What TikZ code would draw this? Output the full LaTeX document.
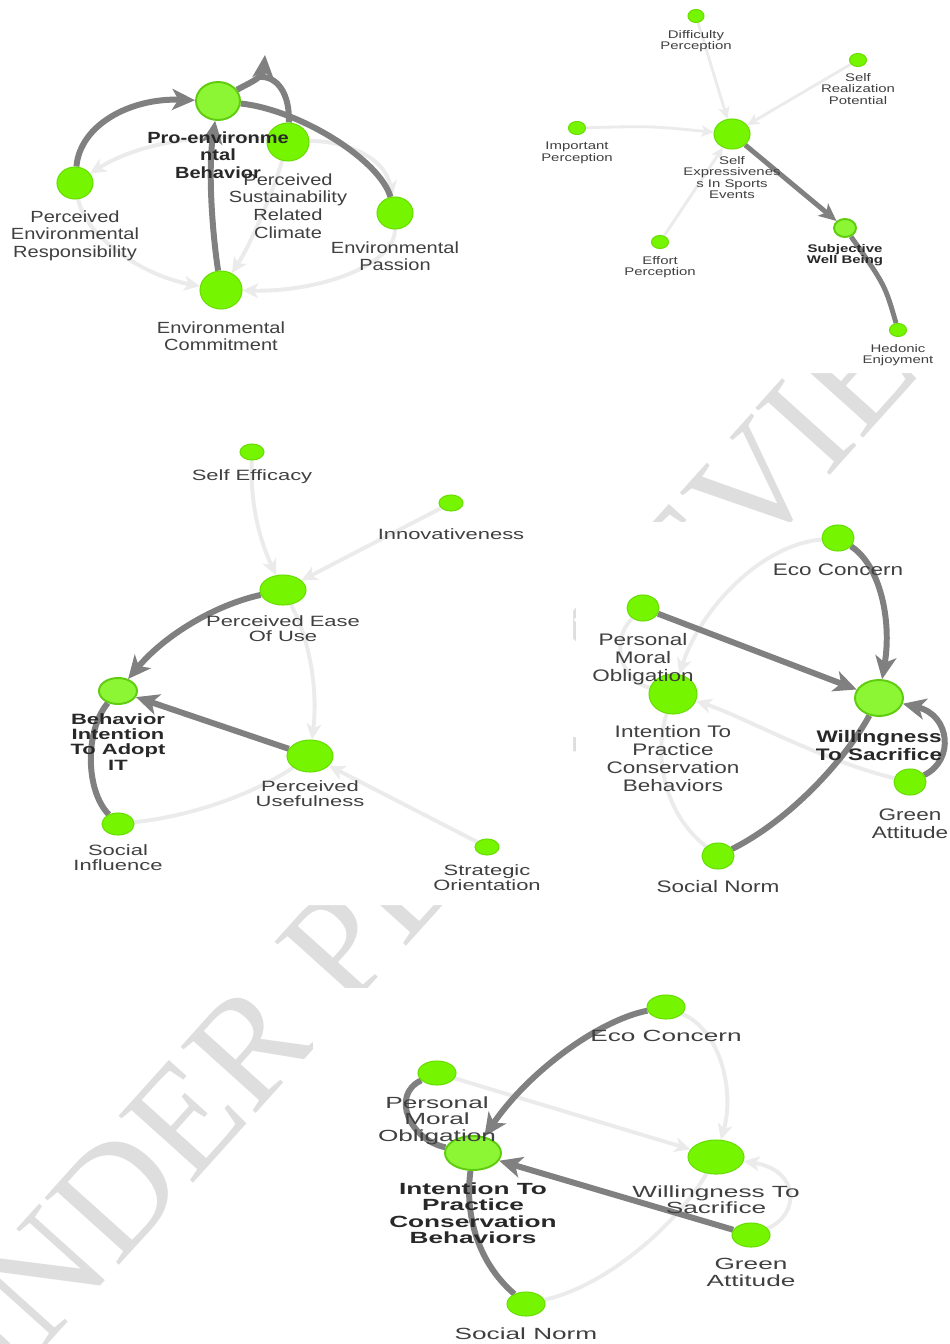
\documentclass[tikz,border=0pt]{standalone}
\usepackage{fontspec}
\setmainfont{Liberation Sans}
\newfontfamily\fA[FakeStretch=1.24]{Liberation Sans}
\newfontfamily\fB[FakeStretch=1.35]{Liberation Sans}
\newfontfamily\fC[FakeStretch=1.47]{Liberation Sans}
\newfontfamily\fD[FakeStretch=1.62]{Liberation Sans}
\newfontfamily\wmfont{Liberation Serif}
\usetikzlibrary{shapes.geometric,arrows.meta}

\definecolor{ndfill}{RGB}{118,245,0}
\definecolor{ndedge}{RGB}{104,222,0}
\definecolor{hubfill}{RGB}{140,246,52}
\definecolor{hubedge}{RGB}{96,204,16}
\definecolor{darkedge}{RGB}{128,128,128}
\definecolor{paleedge}{RGB}{235,235,235}
\definecolor{lbltext}{RGB}{64,64,64}
\definecolor{boldtext}{RGB}{40,40,40}
\definecolor{wmgray}{RGB}{222,222,222}

\pgfdeclarelayer{wmark}
\pgfdeclarelayer{links}
\pgfsetlayers{wmark,links,main}

\tikzset{
  nd/.style={ellipse,draw=ndedge,fill=ndfill,line width=0.6pt,inner sep=0pt},
  hub/.style={ellipse,draw=hubedge,fill=hubfill,line width=1.1pt,inner sep=0pt},
  sz/.style 2 args={minimum width=#1*0.2mm,minimum height=#2*0.2mm},
  lbl/.style={text=lbltext,align=center,inner sep=0pt,anchor=north},
  tA/.style={lbl,font=\fA\fontsize{9.2}{10.1}\selectfont},
  tAb/.style={tA,text=boldtext,font=\fA\fontsize{9.2}{10.1}\selectfont\bfseries},
  tB/.style={lbl,font=\fB\fontsize{6.3}{6.5}\selectfont},
  tBb/.style={tB,text=boldtext,font=\fB\fontsize{6.3}{6.5}\selectfont\bfseries},
  tC/.style={lbl,font=\fC\fontsize{8.5}{8.7}\selectfont},
  tCb/.style={tC,text=boldtext,font=\fC\fontsize{8.5}{8.7}\selectfont\bfseries},
  tD/.style={lbl,font=\fB\fontsize{9.5}{10.3}\selectfont},
  tDb/.style={tD,text=boldtext,font=\fB\fontsize{9.5}{10.3}\selectfont\bfseries},
  tE/.style={lbl,font=\fD\fontsize{9.2}{9.4}\selectfont},
  tEb/.style={tE,text=boldtext,font=\fD\fontsize{9.2}{9.4}\selectfont\bfseries},
  strong/.style={draw=darkedge,line width=3.4pt,-{Stealth[length=13pt,width=12pt,inset=3.5pt]}},
  strongplain/.style={draw=darkedge,line width=3.4pt},
  weak/.style={draw=paleedge,line width=2.2pt,-{Stealth[length=9pt,width=8.5pt,inset=2.5pt]}},
  weakplain/.style={draw=paleedge,line width=2.2pt},
  strongsm/.style={draw=darkedge,line width=2.8pt,-{Stealth[length=10pt,width=9pt,inset=2.5pt]}},
  strongsmplain/.style={draw=darkedge,line width=2.8pt},
  weaksm/.style={draw=paleedge,line width=1.6pt,-{Stealth[length=7pt,width=6.5pt,inset=2pt]}}
}

\begin{document}
\begin{tikzpicture}[x=0.2mm,y=-0.2mm]
\useasboundingbox (0,0) rectangle (949,1344);

% watermark behind the five panels
\begin{pgfonlayer}{wmark}
\node[rotate=48,text=wmgray,inner sep=0pt,font=\wmfont\fontsize{87}{87}\selectfont] (wm) at (458,816) {UNDER PEER REVIEW};
\fill[white] (-40,-40) rectangle (990,373) (-40,373) rectangle (573,905)
  (576,522) rectangle (990,905) (313,988) rectangle (990,1390);
\end{pgfonlayer}

% panel 1
\node[hub,sz={44}{38}] (peb) at (218,101) {};
\node[nd,sz={42}{38}] (psrc) at (288,142) {};
\node[nd,sz={36}{32}] (per) at (75,183) {};
\node[nd,sz={36}{32}] (envp) at (395,213) {};
\node[nd,sz={42}{38}] (envc) at (221,290) {};
\coordinate (loopend) at (265,55);
\coordinate (loopjoin) at (258,77);

% panel 2
\node[nd,sz={36}{30}] (sep) at (732,134) {};
\node[nd,sz={16}{13}] (diffp) at (696,16) {};
\node[nd,sz={17}{13}] (selfr) at (858,60) {};
\node[nd,sz={17}{13}] (impp) at (577,128) {};
\node[nd,sz={17}{13}] (effp) at (660,242) {};
\node[hub,sz={22}{18}] (swb) at (845,228) {};
\node[nd,sz={17}{13}] (hedo) at (898,330) {};

% panel 3
\node[hub,sz={38}{26}] (bint) at (118,691) {};
\node[nd,sz={46}{30}] (peou) at (283,590) {};
\node[nd,sz={46}{32}] (pu) at (310,756) {};
\node[nd,sz={32}{22}] (soci) at (118,824) {};
\node[nd,sz={24}{16}] (seff) at (252,452) {};
\node[nd,sz={24}{16}] (innov) at (451,503) {};
\node[nd,sz={24}{16}] (strat) at (487,847) {};

% panel 4
\node[hub,sz={48}{36}] (wts) at (879,698) {};
\node[nd,sz={32}{26}] (eco) at (838,538) {};
\node[nd,sz={32}{26}] (pmo) at (643,608) {};
\node[nd,sz={48}{40}] (itp) at (673,694) {};
\node[nd,sz={32}{26}] (green) at (910,782) {};
\node[nd,sz={32}{26}] (snorm) at (718,856) {};

% panel 5
\node[hub,sz={56}{34}] (itpb) at (473,1153) {};
\node[nd,sz={38}{24}] (ecob) at (666,1007) {};
\node[nd,sz={38}{24}] (pmob) at (437,1073) {};
\node[nd,sz={56}{34}] (wtsb) at (716,1157) {};
\node[nd,sz={38}{24}] (greenb) at (751,1235) {};
\node[nd,sz={38}{24}] (snormb) at (526,1304) {};

\begin{pgfonlayer}{links}
% pale links first
\draw[weak] (psrc) .. controls (210,132) and (140,142) .. (per);
\draw[weak] (psrc) .. controls (340,140) and (385,155) .. (envp);
\draw[weak] (envp) .. controls (395,265) and (320,292) .. (envc);
\draw[weak] (per) .. controls (85,235) and (140,275) .. (envc);
\draw[weak] (psrc) .. controls (270,200) and (250,245) .. (envc);
\draw[weaksm] (diffp) -- (sep);
\draw[weaksm] (selfr) -- (sep);
\draw[weaksm] (impp) .. controls (650,126) .. (sep);
\draw[weaksm] (effp) -- (sep);
\draw[weak] (seff) .. controls (250,510) and (262,545) .. (peou);
\draw[weak] (innov) -- (peou);
\draw[weak] (peou) .. controls (310,640) and (318,690) .. (pu);
\draw[weakplain] (soci) .. controls (200,815) and (260,790) .. (pu);
\draw[weak] (strat) -- (pu);
\draw[weak] (green) .. controls (820,760) and (740,715) .. (itp);
\draw[weak] (eco) .. controls (760,545) and (700,610) .. (itp);
\draw[weakplain] (pmo) .. controls (610,640) and (620,680) .. (itp);
\draw[weakplain] (snorm) .. controls (660,810) and (655,750) .. (itp);
\draw[weak] (pmob) -- (wtsb);
\draw[weak] (ecob) .. controls (720,1030) and (735,1090) .. (wtsb);
\draw[weakplain] (snormb) .. controls (610,1285) and (680,1220) .. (wtsb);
\draw[weak] (greenb) .. controls (800,1215) and (800,1170) .. (wtsb);
% dark links
\draw[strong] (per) .. controls (80,125) and (130,98) .. (peb);
\draw[strongplain] (envp) .. controls (380,160) and (300,110) .. (peb);
\draw[strong] (envc) .. controls (212,230) and (208,170) .. (peb);
\draw[strong] (peb) .. controls (245,85) and (263,78) .. (loopend);
\draw[strongplain] (psrc) .. controls (290,95) and (278,75) .. (loopjoin);
\draw[strongsm] (sep) -- (swb);
\draw[strongsmplain] (hedo) .. controls (885,285) .. (swb);
\draw[strong] (peou) .. controls (215,605) and (165,635) .. (bint);
\draw[strong] (pu) -- (bint);
\draw[strongplain] (soci) .. controls (85,790) and (85,730) .. (bint);
\draw[strong] (eco) .. controls (880,565) and (892,620) .. (wts);
\draw[strong] (pmo) -- (wts);
\draw[strongplain] (snorm) .. controls (790,820) and (845,760) .. (wts);
\draw[strong] (green) .. controls (955,760) and (950,715) .. (wts);
\draw[strong] (ecob) .. controls (600,1020) and (530,1070) .. (itpb);
\draw[strongplain] (pmob) .. controls (390,1095) and (410,1140) .. (itpb);
\draw[strong] (greenb) -- (itpb);
\draw[strongplain] (snormb) .. controls (475,1260) and (465,1210) .. (itpb);
\end{pgfonlayer}

% labels
\node[tA] (per-l) at (75,210) {Perceived\\Environmental\\Responsibility};
\node[tA] (psrc-l) at (288,173) {Perceived\\Sustainability\\Related\\Climate};
\node[tA] (envp-l) at (395,241) {Environmental\\Passion};
\node[tA] (envc-l) at (221,321) {Environmental\\Commitment};
\node[tAb] (peb-l) at (218,131) {Pro-environme\\ntal\\Behavior};

\node[tB] (diffp-l) at (696,30) {Difficulty\\Perception};
\node[tB] (selfr-l) at (858,73) {Self\\Realization\\Potential};
\node[tB] (impp-l) at (577,142) {Important\\Perception};
\node[tB] (sep-l) at (732,156) {Self\\Expressivenes\\s In Sports\\Events};
\node[tB] (effp-l) at (660,256) {Effort\\Perception};
\node[tBb] (swb-l) at (845,244) {Subjective\\Well Being};
\node[tB] (hedo-l) at (898,344) {Hedonic\\Enjoyment};

\node[tC] (seff-l) at (252,469) {Self Efficacy};
\node[tC] (innov-l) at (451,528) {Innovativeness};
\node[tC] (peou-l) at (283,615) {Perceived Ease\\Of Use};
\node[tCb] (bint-l) at (118,713) {Behavior\\Intention\\To Adopt\\IT};
\node[tC] (pu-l) at (310,780) {Perceived\\Usefulness};
\node[tC] (soci-l) at (118,844) {Social\\Influence};
\node[tC] (strat-l) at (487,864) {Strategic\\Orientation};

\node[tD] (eco-l) at (838,563) {Eco Concern};
\node[tD] (pmo-l) at (643,633) {Personal\\Moral\\Obligation};
\node[tD] (itp-l) at (673,725) {Intention To\\Practice\\Conservation\\Behaviors};
\node[tDb] (wts-l) at (879,730) {Willingness\\To Sacrifice};
\node[tD] (green-l) at (910,808) {Green\\Attitude};
\node[tD] (snorm-l) at (718,880) {Social Norm};

\node[tE] (ecob-l) at (666,1030) {Eco Concern};
\node[tE] (pmob-l) at (437,1096) {Personal\\Moral\\Obligation};
\node[tEb] (itpb-l) at (473,1182) {Intention To\\Practice\\Conservation\\Behaviors};
\node[tE] (wtsb-l) at (716,1185) {Willingness To\\Sacrifice};
\node[tE] (greenb-l) at (751,1258) {Green\\Attitude};
\node[tE] (snormb-l) at (526,1327) {Social Norm};
\end{tikzpicture}
\end{document}
